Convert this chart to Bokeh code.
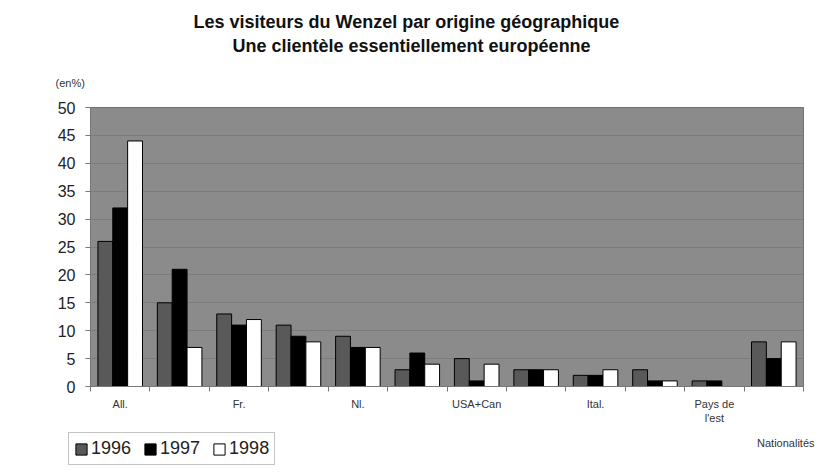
from bokeh.plotting import figure
from bokeh.models import (Range1d, FixedTicker, Title, Legend, LegendItem, Label)
from bokeh.layouts import column, row
from bokeh.embed import file_html
from bokeh.resources import INLINE

# ---- data ----
categories = ["All.", "", "Fr.", "", "Nl.", "", "USA+Can", "", "Ital.", "",
              "Pays de\nl'est", ""]
years = ["1996", "1997", "1998"]
v1996 = [26, 15, 13, 11, 9, 3, 5, 3, 2, 3, 1, 8]
v1997 = [32, 21, 11, 9, 7, 6, 1, 3, 2, 1, 1, 5]
v1998 = [44, 7, 12, 8, 7, 4, 4, 3, 3, 1, 0, 8]
colors = ["#595959", "#000000", "#ffffff"]
y_ticks = [0, 5, 10, 15, 20, 25, 30, 35, 40, 45, 50]
title1 = "Les visiteurs du Wenzel par origine géographique"
title2 = "Une clientèle essentiellement européenne"
unit_label = "(en%)"
x_title = "Nationalités"

FONT = "Liberation Sans"
n = len(categories)
centers = [i + 0.5 for i in range(n)]

# ---------------- main chart ----------------
p = figure(width=819, height=430, output_backend="svg", toolbar_location=None,
           x_range=Range1d(0, n), y_range=Range1d(0, 50),
           min_border_left=90, min_border_right=16, min_border_top=107,
           min_border_bottom=44)
p.background_fill_color = "#8b8b8b"
p.border_fill_color = "white"
p.outline_line_color = "#707070"

bw = 0.25
for k, vals in enumerate([v1996, v1997, v1998]):
    xs = [c + (k - 1) * bw for c in centers]
    p.vbar(x=xs, top=vals, width=bw, fill_color=colors[k], line_color="black",
           line_width=1)

# y axis
p.yaxis.ticker = FixedTicker(ticks=y_ticks)
p.yaxis.major_label_text_font = FONT
p.yaxis.major_label_text_font_size = "16px"
p.yaxis.major_label_text_color = "#222222"
p.yaxis.axis_line_color = "#777777"
p.yaxis.major_tick_line_color = "#777777"
p.yaxis.major_tick_out = 5
p.yaxis.major_tick_in = 0
p.yaxis.minor_tick_line_color = None
p.yaxis.major_label_standoff = 10

# x axis
label_pos = [centers[i] for i in range(n) if categories[i]]
p.xaxis.ticker = FixedTicker(ticks=label_pos, minor_ticks=list(range(n + 1)))
p.xaxis.major_label_overrides = {centers[i]: categories[i] for i in range(n) if categories[i]}
p.xaxis.major_tick_line_color = None
p.xaxis.minor_tick_line_color = "#777777"
p.xaxis.minor_tick_out = 5
p.xaxis.minor_tick_in = 0
p.xaxis.axis_line_color = "#777777"
p.xaxis.major_label_text_font = FONT
p.xaxis.major_label_text_font_size = "11px"
p.xaxis.major_label_text_color = "#333333"
p.xaxis.major_label_standoff = 5

p.xgrid.grid_line_color = None
p.ygrid.ticker = FixedTicker(ticks=y_ticks[1:-1])
p.ygrid.grid_line_color = "#7c7c7c"
p.ygrid.grid_line_width = 1

# titles (above panels, nearest to the frame first)
p.add_layout(Title(text=unit_label, align="left", offset=-35,
                   text_font=FONT, text_font_size="11px",
                   text_font_style="normal", text_color="#333333",
                   standoff=38), "above")
p.add_layout(Title(text=title2, align="left", offset=142,
                   text_font=FONT, text_font_size="18px",
                   text_font_style="bold", text_color="#111111",
                   standoff=0), "above")
p.add_layout(Title(text=title1, align="left", offset=103,
                   text_font=FONT, text_font_size="18px",
                   text_font_style="bold", text_color="#111111",
                   standoff=4), "above")

# ---------------- legend strip ----------------
p2 = figure(width=819, height=43, output_backend="svg", toolbar_location=None,
            x_range=Range1d(0, 819), y_range=Range1d(0, 43),
            x_axis_type=None, y_axis_type=None,
            min_border_left=0, min_border_right=0, min_border_top=0,
            min_border_bottom=0)
p2.outline_line_color = None
p2.background_fill_color = "white"
p2.border_fill_color = "white"
p2.xgrid.grid_line_color = None
p2.ygrid.grid_line_color = None

# legend swatch renderers: kept outside the visible range, only the legend shows them
swatches = [p2.vbar(x=[-100], top=[-100], bottom=[-101], width=1,
                    fill_color=colors[k], line_color="black") for k in range(3)]
legend = Legend(items=[LegendItem(label=years[k], renderers=[swatches[k]])
                       for k in range(3)],
                location=(68, 8), orientation="horizontal",
                label_text_font=FONT, label_text_font_size="18px",
                label_text_color="#222222",
                glyph_width=14, glyph_height=14, label_standoff=3,
                spacing=12, padding=5, margin=0,
                border_line_color="#888888", border_line_width=1,
                background_fill_color="white", background_fill_alpha=1)
p2.add_layout(legend)
p2.add_layout(Label(x=814, y=31, text=x_title, text_align="right",
                    text_baseline="middle", text_font=FONT,
                    text_font_size="11px", text_color="#333333"))

layout = column(p, row(p2, spacing=0), spacing=0)
open("out.html", "w").write(file_html(layout, INLINE))
